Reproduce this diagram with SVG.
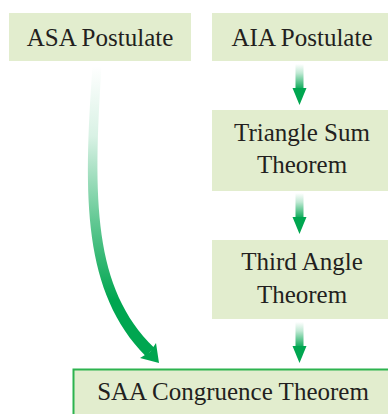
<svg xmlns="http://www.w3.org/2000/svg" width="388" height="414" viewBox="0 0 388 414">
<style>
.box{fill:#e2edce}
.final{fill:#e2edce;stroke:#2db34f;stroke-width:2}
.t{font-family:"Liberation Serif","Times New Roman",serif;font-size:25px;fill:#231f20;text-anchor:middle}
</style>
<defs>
<linearGradient id="gs" x1="0" y1="0" x2="0" y2="1">
<stop offset="0" stop-color="#00a650" stop-opacity="0"/>
<stop offset="0.35" stop-color="#00a650" stop-opacity="0.25"/>
<stop offset="1" stop-color="#00a650" stop-opacity="1"/>
</linearGradient>
<linearGradient id="gb" gradientUnits="userSpaceOnUse" x1="0" y1="66" x2="0" y2="300">
<stop offset="0" stop-color="#00a650" stop-opacity="0"/>
<stop offset="0.3" stop-color="#00a650" stop-opacity="0.15"/>
<stop offset="0.65" stop-color="#00a650" stop-opacity="0.6"/>
<stop offset="1" stop-color="#00a650" stop-opacity="1"/>
</linearGradient>
<g id="small-arrow">
<rect x="-4" y="0" width="8" height="26" fill="url(#gs)"/>
<path d="M-7,24 L7,24 L0,41 Z" fill="#00a650"/>
</g>
</defs>
<g id="connectors">
<use href="#small-arrow" x="299.5" y="64"/>
<use href="#small-arrow" x="299.5" y="193"/>
<use href="#small-arrow" x="299.5" y="322"/>
<path d="M92.5,66 C83,200 83,292 145.8,356.2 L154.2,347.8 C93,288 93,200 101.5,66 Z" fill="url(#gb)"/>
<path d="M159,363 L140,358 L150,352 L156,343 Z" fill="#00a650"/>
</g>
<g id="asa">
<rect class="box" x="9" y="13" width="182" height="48"/>
<text class="t" x="100" y="46">ASA Postulate</text>
</g>
<g id="aia">
<rect class="box" x="212" y="13" width="180" height="48"/>
<text class="t" x="302" y="46">AIA Postulate</text>
</g>
<g id="triangle-sum">
<rect class="box" x="212" y="110" width="180" height="81"/>
<text class="t" x="302" y="141">Triangle Sum</text>
<text class="t" x="302" y="173">Theorem</text>
</g>
<g id="third-angle">
<rect class="box" x="212" y="240" width="180" height="79"/>
<text class="t" x="302" y="270">Third Angle</text>
<text class="t" x="302" y="303">Theorem</text>
</g>
<g id="saa">
<rect class="final" x="73.5" y="369.5" width="330" height="60"/>
<text class="t" x="233" y="400">SAA Congruence Theorem</text>
</g>
</svg>
